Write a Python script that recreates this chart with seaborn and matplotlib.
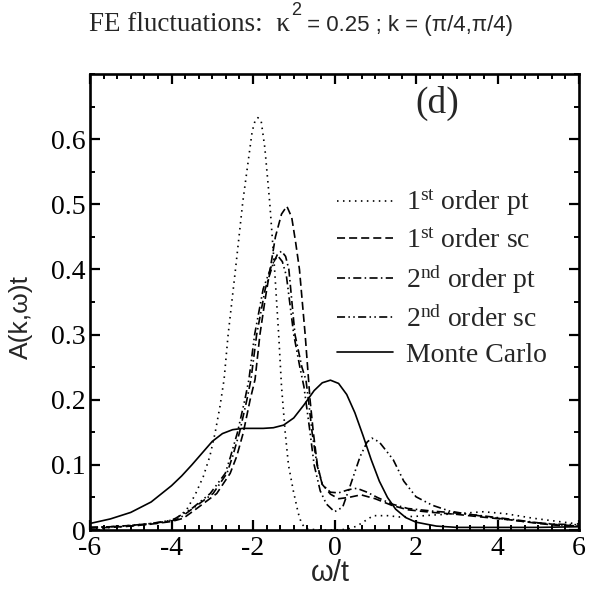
import numpy as np
import pandas as pd
import seaborn as sns
import matplotlib
matplotlib.use("Agg")
import matplotlib.pyplot as plt
from matplotlib.ticker import MultipleLocator

# ---------------- data ----------------
mc_x = [-6, -5.5, -5, -4.5, -4, -3.75, -3.5, -3.25, -3, -2.75, -2.5, -2.25, -2, -1.75,
        -1.5, -1.25, -1, -0.75, -0.5, -0.3, -0.1, 0.1, 0.3, 0.5, 0.7, 0.9, 1.1, 1.3,
        1.5, 1.75, 2, 2.5, 3, 3.5, 4, 5, 6]
mc_y = [0.010, 0.017, 0.027, 0.043, 0.068, 0.083, 0.100, 0.118, 0.136, 0.148, 0.154,
        0.156, 0.156, 0.156, 0.157, 0.161, 0.172, 0.192, 0.214, 0.226, 0.230, 0.225,
        0.208, 0.180, 0.145, 0.108, 0.075, 0.050, 0.032, 0.019, 0.012, 0.006, 0.004,
        0.004, 0.004, 0.004, 0.005]

pt1_x = [-6, -5.5, -5, -4.5, -4.2, -3.87, -3.63, -3.42, -3.22, -3.06, -2.93, -2.81,
         -2.71, -2.61, -2.43, -2.25, -2.12, -2.02, -1.95, -1.88, -1.8, -1.71, -1.59,
         -1.47, -1.37, -1.3, -1.21, -1.13, -1.01, -0.89, -0.81, -0.7, -0.4, 0, 0.3,
         0.55, 0.95, 1.3, 1.6, 2.0, 2.42, 3.0, 3.65, 4.2, 4.88, 5.5, 6]
pt1_y = [0.002, 0.004, 0.006, 0.009, 0.012, 0.018, 0.031, 0.054, 0.082, 0.113, 0.149,
         0.19, 0.231, 0.30, 0.40, 0.504, 0.565, 0.612, 0.628, 0.633, 0.628, 0.587,
         0.503, 0.40, 0.30, 0.22, 0.15, 0.10, 0.06, 0.026, 0.01, 0.002, 0.0, 0.0,
         0.001, 0.006, 0.022, 0.022, 0.020, 0.021, 0.023, 0.025, 0.028, 0.025, 0.018,
         0.013, 0.009]

sc1_x = [-6, -5.5, -5, -4.5, -4, -3.71, -3.38, -2.89, -2.56, -2.4, -2.24, -2.07, -1.95,
         -1.83, -1.7, -1.58, -1.45, -1.3, -1.17, -1.05, -0.95, -0.86, -0.72, -0.6,
         -0.52, -0.42, -0.3, -0.1, 0.1, 0.35, 0.65, 1.0, 1.4, 1.8, 2.4, 3.0, 3.6, 4.4,
         5.0, 5.5, 6]
sc1_y = [0.003, 0.004, 0.006, 0.009, 0.013, 0.018, 0.033, 0.056, 0.087, 0.113, 0.149,
         0.2, 0.231, 0.30, 0.355, 0.40, 0.45, 0.485, 0.497, 0.48, 0.44, 0.40, 0.30,
         0.2, 0.15, 0.10, 0.07, 0.055, 0.048, 0.05, 0.054, 0.048, 0.038, 0.031, 0.027,
         0.024, 0.02, 0.015, 0.01, 0.007, 0.006]

pt2_x = [-6, -5.5, -5, -4.5, -4, -3.8, -3.48, -2.98, -2.64, -2.5, -2.33, -2.15, -2.05,
         -1.91, -1.7, -1.5, -1.4, -1.3, -1.2, -1.12, -0.97, -0.8, -0.7, -0.64, -0.55,
         -0.43, -0.3, -0.1, 0.1, 0.35, 0.55, 0.8, 1.05, 1.4, 1.8, 2.4, 3.0, 3.6, 4.4,
         5.0, 5.5, 6]
pt2_y = [0.004, 0.005, 0.007, 0.010, 0.014, 0.018, 0.033, 0.056, 0.087, 0.113, 0.15,
         0.2, 0.231, 0.30, 0.37, 0.41, 0.423, 0.428, 0.42, 0.40, 0.30, 0.25, 0.23,
         0.2, 0.15, 0.10, 0.07, 0.058, 0.057, 0.062, 0.064, 0.058, 0.05, 0.04, 0.033,
         0.029, 0.026, 0.022, 0.016, 0.011, 0.008, 0.006]

sc2_x = [-6, -5.5, -5, -4.5, -4, -3.9, -3.5, -3.05, -2.68, -2.55, -2.38, -2.2, -2.1,
         -1.96, -1.75, -1.55, -1.45, -1.38, -1.28, -1.18, -1.0, -0.85, -0.75, -0.6,
         -0.5, -0.35, -0.2, 0.0, 0.2, 0.38, 0.63, 0.8, 0.92, 1.1, 1.44, 1.7, 2.0, 2.4,
         2.83, 3.3, 4.0, 4.8, 5.4, 6]
sc2_y = [0.004, 0.005, 0.007, 0.010, 0.015, 0.018, 0.033, 0.056, 0.087, 0.113, 0.15,
         0.2, 0.231, 0.30, 0.37, 0.405, 0.416, 0.42, 0.412, 0.39, 0.30, 0.25, 0.22,
         0.15, 0.10, 0.06, 0.04, 0.028, 0.035, 0.067, 0.113, 0.135, 0.141, 0.135,
         0.108, 0.075, 0.051, 0.038, 0.029, 0.024, 0.018, 0.012, 0.009, 0.008]

labels = [r"1$^{\mathrm{st}}$ order pt", r"1$^{\mathrm{st}}$ order sc",
          r"2$^{\mathrm{nd}}$ order pt", r"2$^{\mathrm{nd}}$ order sc", "Monte Carlo"]

# ---------------- style ----------------
sns.set_theme(style="ticks")
plt.rcParams["font.family"] = ["Liberation Serif", "DejaVu Serif"]
plt.rcParams["mathtext.fontset"] = "custom"
plt.rcParams["mathtext.rm"] = "Liberation Serif"
plt.rcParams["mathtext.it"] = "Liberation Serif:italic"
plt.rcParams["mathtext.bf"] = "Liberation Serif:bold"
plt.rcParams["lines.scale_dashes"] = False

W, H = 589, 601
fig = plt.figure(figsize=(W / 100, H / 100), dpi=100)
fig.patch.set_facecolor("white")
ax = fig.add_axes([90 / W, (H - 530) / H, (579 - 90) / W, (530 - 74) / H])
ax.set_facecolor("white")

series = [
    (pt1_x, pt1_y, (0, (1.1, 3.2))),
    (sc1_x, sc1_y, (0, (5.8, 2.9))),
    (pt2_x, pt2_y, (0, (5.8, 2.4, 1.1, 2.4))),
    (sc2_x, sc2_y, (0, (5.8, 2.4, 1.1, 2.4, 1.1, 2.4))),
    (mc_x, mc_y, "-"),
]
handles = []
for (xs, ys, ls), lab in zip(series, labels):
    df = pd.DataFrame({"w": xs, "A": ys})
    sns.lineplot(data=df, x="w", y="A", ax=ax, color="black", linewidth=1.2,
                 linestyle=ls, sort=False, estimator=None, label=lab, legend=False)
    handles.append(ax.lines[-1])

ax.set_xlim(-6, 6)
ax.set_ylim(0, 0.7)
ax.xaxis.set_major_locator(MultipleLocator(2))
ax.xaxis.set_minor_locator(MultipleLocator(1 / 3))
ax.yaxis.set_major_locator(MultipleLocator(0.1))
ax.yaxis.set_minor_locator(MultipleLocator(0.05))
ax.set_xticks([-6, -4, -2, 0, 2, 4, 6])
ax.set_xticklabels(["-6", "-4", "-2", "0", "2", "4", "6"])
ax.set_yticks([0, 0.1, 0.2, 0.3, 0.4, 0.5, 0.6])
ax.set_yticklabels(["0", "0.1", "0.2", "0.3", "0.4", "0.5", "0.6"])
ax.tick_params(which="both", direction="in", top=True, right=True, colors="black",
               labelsize=20)
ax.tick_params(which="major", length=7, width=1.6)
ax.tick_params(which="minor", length=3.8, width=1.4)
ax.tick_params(axis="x", which="major", pad=4)
ax.tick_params(axis="y", which="major", pad=3)
for sp in ax.spines.values():
    sp.set_linewidth(1.9)
    sp.set_color("black")
    sp.set_visible(True)

ax.set_xlabel("ω/t", family="Liberation Sans", fontsize=21)
ax.set_ylabel("A(k,ω)t", family="Liberation Sans", fontsize=19)
ax.xaxis.set_label_coords(0.491, -0.064)
ax.yaxis.set_label_coords(-0.117, 0.467)

ax.text(0.71, 0.935, "(d)", transform=ax.transAxes, fontsize=27,
        ha="center", va="center")

leg = ax.legend(handles=handles, labels=labels, loc="upper left",
                bbox_to_anchor=(0.505, 0.75), frameon=False, fontsize=20,
                handlelength=2.0, handletextpad=0.5, labelspacing=0.36,
                borderpad=0, borderaxespad=0)

# ---------------- title (mixed fonts) ----------------
fig.canvas.draw()
r = fig.canvas.get_renderer()
ybase = (H - 31) / H
t1 = fig.text(89 / W, ybase, "FE fluctuations:  κ", family="Liberation Serif",
              fontsize=19.5, va="baseline", ha="left")
bb = t1.get_window_extent(renderer=r)
t2 = fig.text((bb.x1 + 1) / W, (H - 15) / H, "2", family="Liberation Sans",
              fontsize=13, va="baseline", ha="left")
bb2 = t2.get_window_extent(renderer=r)
fig.text(bb2.x1 / W, ybase, " = 0.25 ; k = (π/4,π/4)", family="Liberation Sans",
         fontsize=16, va="baseline", ha="left")

fig.savefig("out.png", dpi=100, facecolor="white")
